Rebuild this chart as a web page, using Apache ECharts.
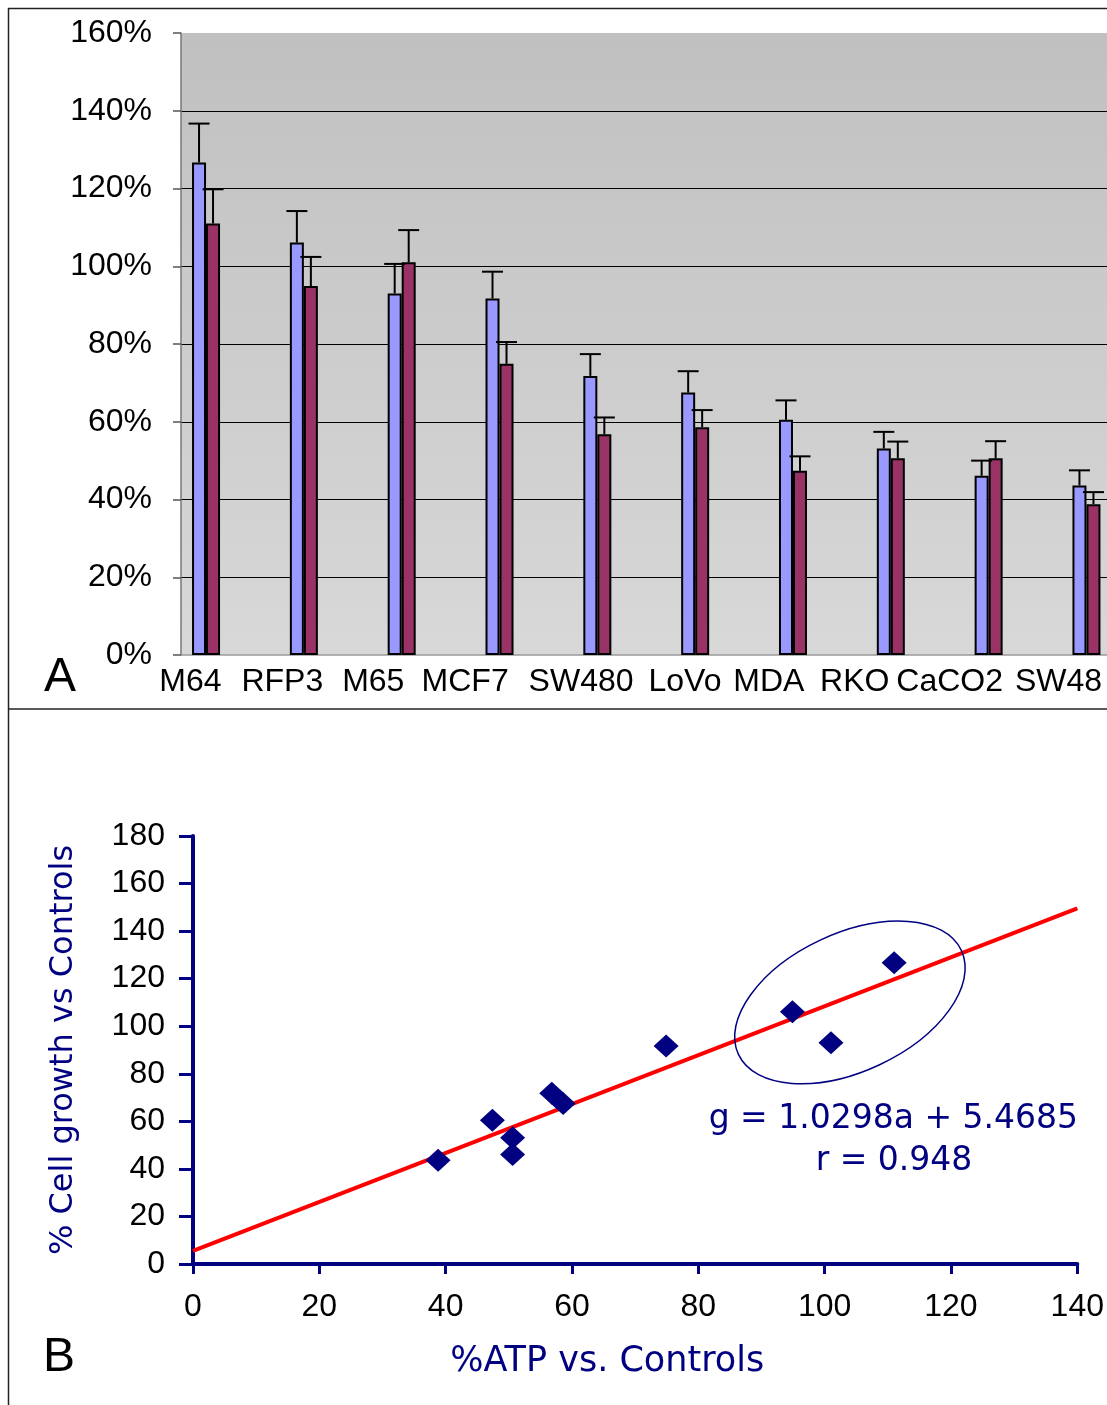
<!DOCTYPE html>
<html>
<head>
<meta charset="utf-8">
<script src="https://cdn.jsdelivr.net/npm/echarts@6/dist/echarts.min.js"></script>
<style>
  html, body { margin: 0; padding: 0; background: #fff; }
  #chart { width: 1107px; height: 1405px; }
</style>
</head>
<body>
<div id="chart"></div>
<script>
// panel A: cell lines
const categories = ['M64', 'RFP3', 'M65', 'MCF7', 'SW480', 'LoVo', 'MDA', 'RKO', 'CaCO2', 'SW48']
// % cell growth vs controls (blue) and % ATP vs controls (red)
const growth = [126.7, 106.1, 93.0, 91.7, 71.8, 67.5, 60.5, 53.1, 46.1, 43.6]
const growthErr = [10.0, 8.1, 7.6, 6.9, 5.6, 5.5, 5.0, 4.3, 3.9, 3.9]
const atp = [111.0, 94.9, 101.0, 74.9, 56.8, 58.6, 47.4, 50.6, 50.6, 38.8]
const atpErr = [8.8, 7.5, 8.3, 5.6, 4.3, 4.4, 3.7, 4.3, 4.4, 3.1]

// panel B: regression line end points and circled group centre
const trend = [[0, 5.5], [140, 149.6]]
const circleCenter = [[104, 110]]
const equationText = 'g = 1.0298a + 5.4685'
const rText = 'r = 0.948'

// horizontal nudge (px) of each category label, the labels are packed like text in the original
const labelShift = [0, -3, -7, -10, 11, 20, 9, 0, 0, 14]

const FONT = 'Liberation Sans, Arial, sans-serif'
const WIDE_FONT = 'DejaVu Sans, sans-serif'
const NAVY = '#000080'
const BAR_W = 14

const chart = echarts.init(document.getElementById('chart'))

const errorBar = (offset) => (params, api) => {
  const x = api.value(0)
  const top = api.value(1)
  const err = api.value(2)
  const p1 = api.coord([x, top])
  const p2 = api.coord([x, top + err])
  const cx = p1[0] + offset
  const style = { stroke: '#000', lineWidth: 2 }
  return {
    type: 'group',
    children: [
      { type: 'line', shape: { x1: cx, y1: p1[1], x2: cx, y2: p2[1] }, style },
      { type: 'line', shape: { x1: cx - 10.5, y1: p2[1], x2: cx + 10.5, y2: p2[1] }, style },
    ],
  }
}

const categoryItems = categories.map((c, i) => {
  const d = labelShift[i]
  return {
    value: c,
    textStyle: { padding: d >= 0 ? [0, 0, 0, 2 * d] : [0, -2 * d, 0, 0] },
  }
})

const option = {
  animation: false,
  textStyle: { fontFamily: FONT },
  grid: [
    {
      left: 181, top: 33, width: 926, height: 622,
      show: true, borderWidth: 0,
      backgroundColor: new echarts.graphic.LinearGradient(0, 0, 0, 1, [
        { offset: 0, color: '#c0c0c0' },
        { offset: 1, color: '#d8d8d8' },
      ]),
    },
    { left: 143, top: 33, width: 949, height: 622 },
    { left: 193, top: 836, width: 885, height: 428 },
  ],
  xAxis: [
    {
      gridIndex: 0, type: 'value', min: -0.256, max: 9.21,
      axisLine: { show: true, onZero: false, lineStyle: { color: '#9a9a9a', width: 1.5 } },
      axisTick: { show: false }, axisLabel: { show: false }, splitLine: { show: false },
    },
    {
      gridIndex: 1, type: 'category', data: categoryItems,
      axisLine: { show: false }, axisTick: { show: false }, splitLine: { show: false },
      axisLabel: { interval: 0, color: '#000', fontSize: 32, margin: 11, fontFamily: FONT, hideOverlap: false },
    },
    {
      gridIndex: 2, type: 'value', min: 0, max: 140, interval: 20,
      axisLine: { onZero: false, lineStyle: { color: NAVY, width: 4 } },
      axisTick: { length: 10, lineStyle: { color: NAVY, width: 3 } },
      axisLabel: { color: '#000', fontSize: 32, margin: 27, fontFamily: FONT },
      splitLine: { show: false },
      name: '%ATP vs. Controls', nameLocation: 'middle', nameGap: 80,
      nameTextStyle: { color: NAVY, fontSize: 35, fontFamily: WIDE_FONT, padding: [0, 56, 0, 0] },
    },
  ],
  yAxis: [
    {
      gridIndex: 0, type: 'value', min: 0, max: 160, interval: 20,
      axisLine: { show: true, onZero: false, lineStyle: { color: '#777', width: 1.5 } },
      axisTick: { show: true, length: 8, lineStyle: { color: '#555', width: 1.5 } },
      axisLabel: { color: '#000', fontSize: 32, margin: 29, formatter: '{value}%', fontFamily: FONT },
      splitLine: { show: true, showMinLine: false, showMaxLine: false, lineStyle: { color: '#000', width: 1 } },
    },
    { gridIndex: 1, type: 'value', show: false },
    {
      gridIndex: 2, type: 'value', min: 0, max: 180, interval: 20,
      axisLine: { onZero: false, lineStyle: { color: NAVY, width: 4 } },
      axisTick: { length: 14, lineStyle: { color: NAVY, width: 3 } },
      axisLabel: { color: '#000', fontSize: 32, margin: 28, fontFamily: FONT },
      splitLine: { show: false },
      name: '% Cell growth vs Controls', nameLocation: 'middle', nameGap: 113,
      nameTextStyle: { color: NAVY, fontSize: 32, fontFamily: WIDE_FONT },
    },
  ],
  series: [
    {
      type: 'bar', xAxisIndex: 0, yAxisIndex: 0,
      data: growth.map((v, i) => [i, v]),
      barWidth: BAR_W, barGap: '0%',
      itemStyle: { color: '#9999ff', borderColor: '#000', borderWidth: 2 },
    },
    {
      type: 'bar', xAxisIndex: 0, yAxisIndex: 0,
      data: atp.map((v, i) => [i, v]),
      barWidth: BAR_W, barGap: '0%',
      itemStyle: { color: '#993366', borderColor: '#000', borderWidth: 2 },
    },
    {
      type: 'custom', xAxisIndex: 0, yAxisIndex: 0, z: 3,
      data: growth.map((v, i) => [i, v, growthErr[i]]),
      renderItem: errorBar(-BAR_W / 2),
    },
    {
      type: 'custom', xAxisIndex: 0, yAxisIndex: 0, z: 3,
      data: atp.map((v, i) => [i, v, atpErr[i]]),
      renderItem: errorBar(BAR_W / 2),
    },
    {
      type: 'line', xAxisIndex: 2, yAxisIndex: 2, z: 2,
      data: trend, symbol: 'none',
      lineStyle: { color: '#ff0000', width: 4 },
    },
    {
      type: 'scatter', xAxisIndex: 2, yAxisIndex: 2, z: 3,
      data: atp.map((v, i) => [v, growth[i]]),
      symbol: 'diamond', symbolSize: [25, 23],
      itemStyle: { color: NAVY, opacity: 1 },
    },
    {
      type: 'custom', xAxisIndex: 2, yAxisIndex: 2, z: 4,
      data: circleCenter,
      renderItem: (params, api) => {
        const c = api.coord([api.value(0), api.value(1)])
        return {
          type: 'ellipse',
          x: c[0], y: c[1],
          rotation: 25 * Math.PI / 180,
          shape: { cx: 0, cy: 0, rx: 123, ry: 69 },
          style: { fill: 'none', stroke: NAVY, lineWidth: 1.5 },
        }
      },
    },
  ],
  graphic: [
    { type: 'line', shape: { x1: 8, y1: 8.5, x2: 1107, y2: 8.5 }, style: { stroke: '#222', lineWidth: 1.5 } },
    { type: 'line', shape: { x1: 8.5, y1: 8, x2: 8.5, y2: 1405 }, style: { stroke: '#222', lineWidth: 1.5 } },
    { type: 'line', shape: { x1: 8, y1: 709, x2: 1107, y2: 709 }, style: { stroke: '#222', lineWidth: 1.5 } },
    {
      type: 'text', x: 60, y: 678,
      style: { text: 'A', fontSize: 48, fill: '#000', fontFamily: FONT, align: 'center', verticalAlign: 'middle' },
    },
    {
      type: 'text', x: 59, y: 1358,
      style: { text: 'B', fontSize: 48, fill: '#000', fontFamily: FONT, align: 'center', verticalAlign: 'middle' },
    },
    {
      type: 'text', x: 1078, y: 1119,
      style: { text: equationText, fontSize: 33, fill: NAVY, fontFamily: WIDE_FONT, align: 'right', verticalAlign: 'middle' },
    },
    {
      type: 'text', x: 894, y: 1161,
      style: { text: rText, fontSize: 33, fill: NAVY, fontFamily: WIDE_FONT, align: 'center', verticalAlign: 'middle' },
    },
  ],
}

chart.setOption(option)
</script>
</body>
</html>
